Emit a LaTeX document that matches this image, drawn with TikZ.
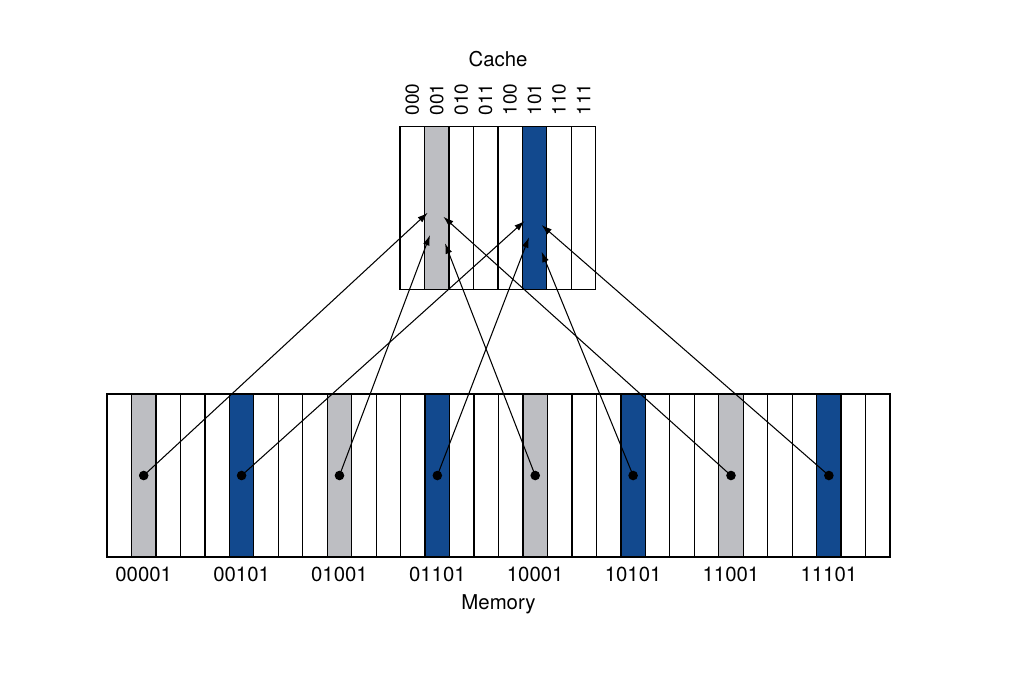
\documentclass[tikz,border=0pt]{standalone}
\usepackage{fontspec}
\setmainfont{TeX Gyre Heros}
\usepackage{tikz}
\usetikzlibrary{arrows.meta,positioning,calc}
\definecolor{slotgray}{RGB}{189,190,194}
\definecolor{slotblue}{RGB}{18,73,142}

\begin{document}
\begin{tikzpicture}[
    x=0.25mm, y=-0.25mm,
    slot/.style={rectangle, draw, line width=0.9pt, minimum width=6.1175mm, minimum height=40.8mm, inner sep=0pt, outer sep=0pt},
    bits/.style={font=\fontsize{13.5}{15}\selectfont, inner sep=0pt, rotate=90, anchor=west},
    addr/.style={font=\fontsize{14.5}{16}\selectfont, inner sep=0pt, anchor=north},
    title/.style={font=\fontsize{14.5}{17}\selectfont, inner sep=0pt},
    dot/.style={circle, fill=black, inner sep=0pt, minimum size=2.4mm},
    arrow/.style={-{Latex[length=2.6mm, width=1.7mm]}, line width=0.75pt}
  ]
  \useasboundingbox (0,0) rectangle (1018,689);

  % Cache slots
  \foreach \i/\b in {0/000,1/001,2/010,3/011,4/100,5/101,6/110,7/111} {
    \ifnum\i=1 \def\slotfill{slotgray}\else\ifnum\i=5 \def\slotfill{slotblue}\else\def\slotfill{white}\fi\fi
    \node[slot, fill=\slotfill] (c\i) at ({400+24.47*(\i+0.5)}, 208) {};
    \node[bits] (cb\i) at ($(c\i.north)+(0,-11)$) {\b};
  }
  \node[title] (cache) at (498, 59) {Cache};

  % Memory slots
  \foreach \i in {0,...,31} {
    \pgfmathtruncatemacro\k{mod(\i,8)}
    \ifnum\k=1 \def\slotfill{slotgray}\else\ifnum\k=5 \def\slotfill{slotblue}\else\def\slotfill{white}\fi\fi
    \node[slot, fill=\slotfill] (m\i) at ({107+24.47*(\i+0.5)}, 475.5) {};
  }
  \foreach \m/\a in {1/00001,5/00101,9/01001,13/01101,17/10001,21/10101,25/11001,29/11101} {
    \node[dot] (d\m) at (m\m) {};
    \node[addr] (a\m) at ($(m\m.south)+(0,9.5)$) {\a};
  }
  \node[title] (memory) at (498.5, 604) {Memory};

  % Mapping arrows
  \foreach \m/\dx/\dy in {1/-9/4.7, 25/6.6/8.7, 5/-10/13, 29/7/17, 9/-6.7/27, 13/-5.6/29.3, 17/8.3/35.3, 21/7/43.7} {
    \pgfmathtruncatemacro\k{mod(\m,8)}
    \coordinate (t\m) at ($(c\k)+(\dx,\dy)$);
    \draw[arrow] (d\m.center) -- (t\m);
  }
\end{tikzpicture}
\end{document}
